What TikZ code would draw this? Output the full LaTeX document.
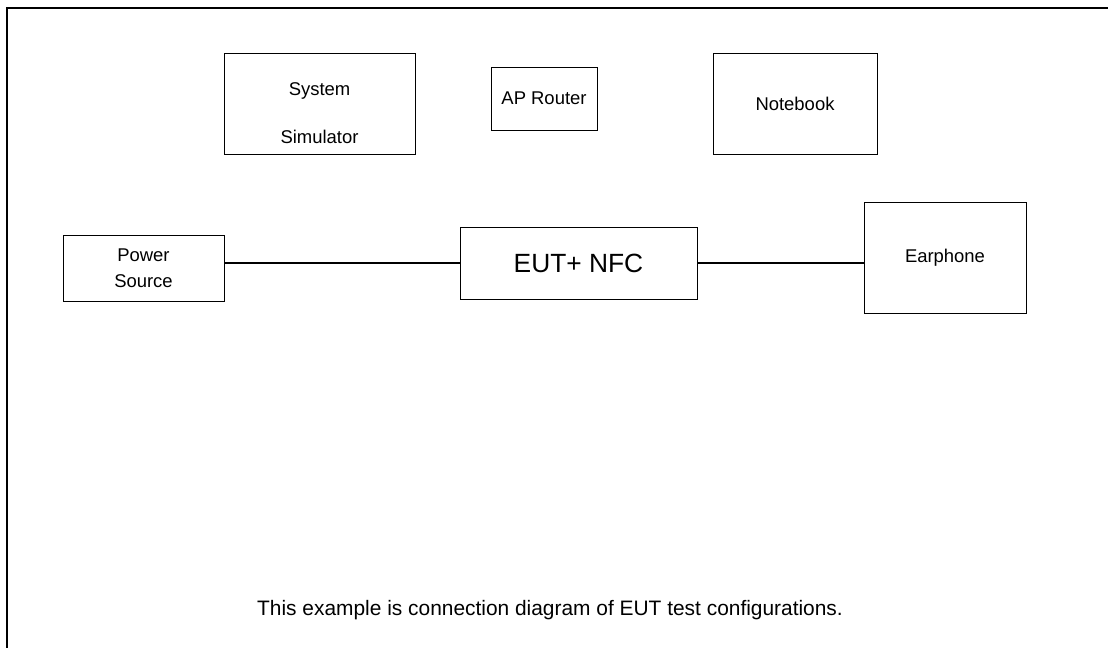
\documentclass[tikz,border=0pt]{standalone}
\usepackage{fontspec}
\setmainfont{Liberation Sans}
\usetikzlibrary{positioning}
\tikzset{
  unit/.style={draw, thin, rectangle, inner sep=0pt, align=center, font=\fontsize{10.5}{15}\selectfont},
}
\begin{document}
\begin{tikzpicture}[x=0.02cm, y=-0.02cm]
      \useasboundingbox (0,0) rectangle (1108,648);
      \draw[line width=1.4pt] (1108,8) -- (7,8) -- (7,650);
      \draw
        (319.5,103.5) node[unit, minimum width=191*0.02cm, minimum height=101*0.02cm] (sim){\rule{0pt}{18.4pt}System\\[12pt]Simulator}
        (544,98.5) node[unit, minimum width=106*0.02cm, minimum height=63*0.02cm] (router){AP Router}
        (795,103.5) node[unit, minimum width=164*0.02cm, minimum height=101*0.02cm] (notebook){Notebook}
        (143.5,268) node[unit, minimum width=161*0.02cm, minimum height=66*0.02cm] (power){Power\\Source}
        (578.5,263) node[unit, minimum width=237*0.02cm, minimum height=72*0.02cm, font=\fontsize{15}{18}\selectfont] (eut){EUT+ NFC}
        (945,257.5) node[unit, minimum width=162*0.02cm, minimum height=111*0.02cm] (earphone){Earphone}
        (550,610) node[font=\fontsize{11.9}{14}\selectfont] (caption){This example is connection diagram of EUT test configurations.};
      \begin{scope}[-, thick]
        \draw (eut.west) to (eut.west -| power.east);
        \draw (eut.east) to (eut.east -| earphone.west);
      \end{scope}
    \end{tikzpicture}
\end{document}
